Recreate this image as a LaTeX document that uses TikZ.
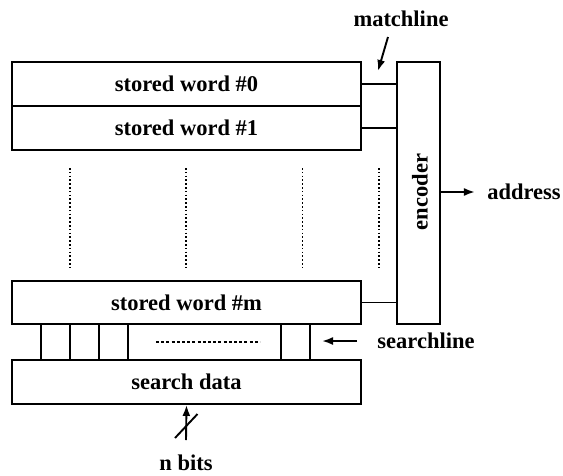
\documentclass[tikz,border=0pt]{standalone}
\usepackage{fontspec}
\setmainfont{Liberation Serif}
\usetikzlibrary{arrows.meta}
\begin{document}
\begin{tikzpicture}[x=1pt,y=-1pt,
  lw/.style={line width=1.9pt},
  box/.style={draw,lw,rectangle,inner sep=0pt,minimum width=349pt,font=\fontsize{22.5}{26}\selectfont\bfseries},
  cell/.style={draw,lw,rectangle,inner sep=0pt,minimum width=29pt,minimum height=36pt},
  lab/.style={inner sep=0pt,font=\fontsize{22.5}{26}\selectfont\bfseries},
  arr/.style={lw,-{Latex[length=11pt,width=8pt]}},
  dots/.style={line width=1.9pt,dash pattern=on 1.6pt off 2.2pt}
]
\useasboundingbox (0,0) rectangle (563,475);
% words
\node[box,minimum height=44pt] (w0) at (186.5,84) {stored word \#0};
\node[box,minimum height=44pt] (w1) at (186.5,128) {stored word \#1};
\node[box,minimum height=43pt] (wm) at (186.5,302.5) {stored word \#m};
\node[box,minimum height=44pt] (sd) at (186.5,382) {search data};
% encoder
\node[draw,lw,rectangle,inner sep=0pt,minimum width=43pt,minimum height=262pt] (enc) at (418.5,193) {};
\node[lab,rotate=90] (enctext) at (420,192) {encoder};
% matchlines
\draw[lw] (w0.east) -- (w0.east -| enc.west);
\draw[lw] (w1.east) -- (w1.east -| enc.west);
\draw[lw] (wm.east) -- (wm.east -| enc.west);
\node[lab] (ml) at (401,19) {matchline};
\coordinate (mla) at (388,37);
\coordinate (mlb) at (378,71);
\draw[arr] (mla) -- (mlb);
% address
\node[lab] (addr) at (524,192) {address};
\draw[arr] (enc.east |- addr) -- ++(34,0);
% dotted columns
\foreach \i/\x in {1/70,2/186,3/302.5,4/379}{
  \coordinate (dt\i) at (\x,168);
  \coordinate (db\i) at (\x,268);
  \draw[dots] (dt\i) -- (db\i);
}
% searchline cells
\node[cell] (c1) at (55.5,342) {};
\node[cell] (c2) at (84.5,342) {};
\node[cell] (c3) at (113.5,342) {};
\node[cell] (c4) at (295.5,342) {};
\coordinate (dsa) at (156,342);
\coordinate (dsb) at (260,342);
\draw[line width=1.6pt,dash pattern=on 3pt off 2.2pt] (dsa) -- (dsb);
\node[lab] (sl) at (426,341) {searchline};
\coordinate (sla) at (357,341);
\draw[arr] (sla) -- (322,341);
% n bits
\node[lab] (nb) at (186,463) {n bits};
\coordinate (nba) at (186,440);
\draw[arr] (nba) -- (sd.south);
\coordinate (sa) at (175,438);
\coordinate (sb) at (197.5,414);
\draw[lw] (sa) -- (sb);
\end{tikzpicture}
\end{document}
